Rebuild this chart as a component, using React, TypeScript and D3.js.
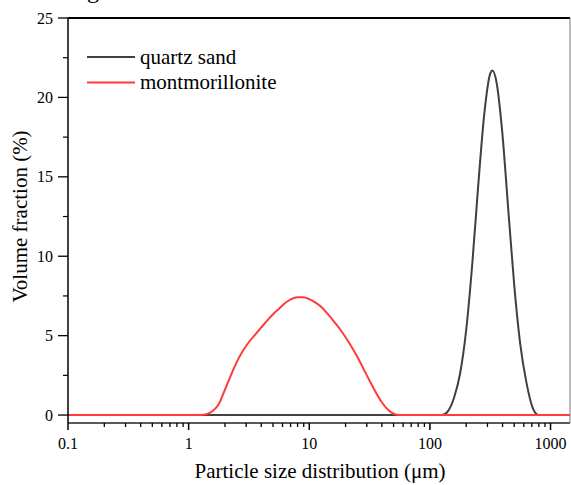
import React from "react";
import * as d3 from "d3";

const quartzSize = [0.1, 125.9, 141.3, 158.5, 177.8, 199.5, 223.9, 251.2, 281.8, 316.2, 330, 354.8, 398.1, 446.7, 501.2, 562.3, 631.0, 707.9, 794.3, 1450];
const quartzVal = [0, 0, 0.25, 1.09, 2.6, 5.3, 9.4, 14.4, 18.9, 21.5, 21.7, 21.05, 17.8, 12.9, 8.1, 4.4, 2.06, 0.5, 0, 0];

const montSize = [0.1, 1.26, 1.41, 1.58, 1.78, 2.0, 2.24, 2.51, 2.82, 3.16, 3.55, 3.98, 4.47, 5.01, 5.62, 6.31, 7.08, 7.94, 8.91, 10, 11.2, 12.6, 14.1, 15.8, 17.8, 20.0, 22.4, 25.1, 28.2, 31.6, 35.5, 39.8, 44.7, 50.1, 56.2, 1450];
const montVal = [0, 0, 0.05, 0.25, 0.7, 1.6, 2.5, 3.35, 4.05, 4.6, 5.05, 5.5, 5.95, 6.35, 6.7, 7.05, 7.3, 7.42, 7.42, 7.3, 7.1, 6.8, 6.4, 5.95, 5.45, 4.9, 4.3, 3.65, 2.9, 2.17, 1.45, 0.82, 0.35, 0.08, 0, 0];

const xMajor = [0.1, 1, 10, 100, 1000];
const xMajorLabels = ["0.1", "1", "10", "100", "1000"];
const yMajor = [0, 5, 10, 15, 20, 25];
const yMinor = [2.5, 7.5, 12.5, 17.5, 22.5];
const seriesNames = ["quartz sand", "montmorillonite"];
const seriesColors = ["#404040", "#ff3b3b"];

const W = 571, H = 485;
const left = 68, right = 570, top = 18, bottom = 423;

export default function App() {
  const x = d3.scaleLog().domain([0.1, 1450]).range([left, right]);
  const y = d3.scaleLinear().domain([-0.5, 25]).range([bottom, top]);
  const xMinor: number[] = [];
  for (let dec = 0.1; dec < 1450; dec *= 10) {
    for (let k = 2; k <= 9; k++) {
      const v = dec * k;
      if (v < 1450) xMinor.push(v);
    }
  }
  const line = d3
    .line<[number, number]>()
    .x((d) => x(d[0]))
    .y((d) => y(d[1]))
    .curve(d3.curveMonotoneX);
  const q = line(quartzSize.map((s, i) => [s, quartzVal[i]] as [number, number])) || "";
  const m = line(montSize.map((s, i) => [s, montVal[i]] as [number, number])) || "";
  const ff = "'Liberation Serif', 'Times New Roman', serif";

  return (
    <svg width={W} height={H} style={{ position: "absolute", left: 0, top: 0, background: "#fff" }}>
      <rect x={0} y={0} width={W} height={H} fill="#fff" />
      <g fontFamily={ff}>
        <text x={87} y={-2} fontSize={24} fill="#000">g</text>
      </g>
      <defs>
        <clipPath id="plot">
          <rect x={left} y={top} width={right - left} height={bottom - top} />
        </clipPath>
      </defs>
      <g clipPath="url(#plot)">
        <path d={q} fill="none" stroke={seriesColors[0]} strokeWidth={2} />
        <path d={m} fill="none" stroke={seriesColors[1]} strokeWidth={2} />
      </g>
      <line x1={left} x2={right} y1={top} y2={top} stroke="#000" strokeWidth={2} />
      <line x1={left} x2={left} y1={top} y2={bottom} stroke="#000" strokeWidth={1.5} />
      <line x1={left} x2={right} y1={bottom} y2={bottom} stroke="#222" strokeWidth={1.3} />
      <line x1={right} x2={right} y1={top} y2={bottom} stroke="#777" strokeWidth={1} />
      <g fontFamily={ff} fill="#000">
        {yMajor.map((v) => (
          <g key={"ym" + v}>
            <line x1={left - 10} x2={left} y1={y(v)} y2={y(v)} stroke="#000" strokeWidth={1.3} />
            <text x={53} y={y(v)} dy="0.35em" textAnchor="end" fontSize={16}>{v}</text>
          </g>
        ))}
        {yMinor.map((v) => (
          <line key={"yn" + v} x1={left - 5} x2={left} y1={y(v)} y2={y(v)} stroke="#000" strokeWidth={1.2} />
        ))}
        {xMajor.map((v, i) => (
          <g key={"xm" + v}>
            <line x1={x(v)} x2={x(v)} y1={bottom} y2={bottom + 7} stroke="#000" strokeWidth={1.5} />
            <text x={x(v)} y={448.5} textAnchor="middle" fontSize={16}>{xMajorLabels[i]}</text>
          </g>
        ))}
        {xMinor.map((v) => (
          <line key={"xn" + v} x1={x(v)} x2={x(v)} y1={bottom} y2={bottom + 4} stroke="#000" strokeWidth={1.3} />
        ))}
        <text x={(left + right) / 2 + 1} y={478} textAnchor="middle" fontSize={21}>
          Particle size distribution (μm)
        </text>
        <text transform={`translate(27, ${(top + bottom) / 2 - 4}) rotate(-90)`} textAnchor="middle" fontSize={21}>
          Volume fraction (%)
        </text>
        {seriesNames.map((n, i) => (
          <g key={n}>
            <line x1={87} x2={135} y1={57 + i * 25.5} y2={57 + i * 25.5} stroke={seriesColors[i]} strokeWidth={2} />
            <text x={140} y={57 + i * 25.5} dy="0.32em" fontSize={21}>{n}</text>
          </g>
        ))}
      </g>
    </svg>
  );
}
